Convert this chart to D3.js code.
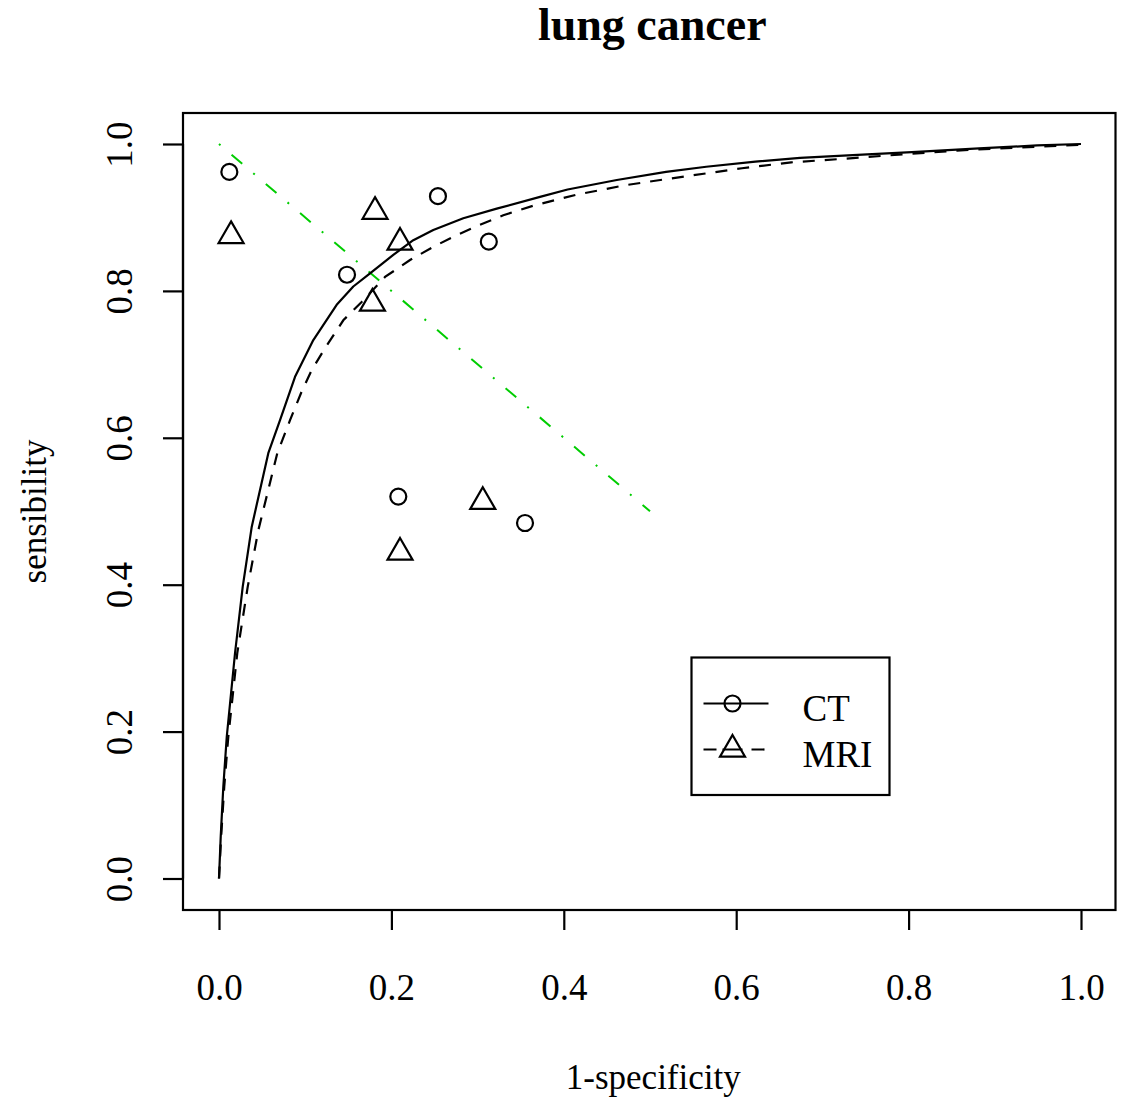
<!DOCTYPE html>
<html>
<head>
<meta charset="utf-8">
<script src="https://cdn.jsdelivr.net/npm/d3@7"></script>
<style>
  html, body { margin: 0; padding: 0; background: #fff; }
  svg text { font-family: "Liberation Serif", "Times New Roman", serif; fill: #000; }
</style>
</head>
<body>
<svg id="chart" width="1124" height="1097"></svg>
<script>
// Study-level points (1-specificity, sensitivity)
const ctFpr  = [0.012, 0.1485, 0.254, 0.313, 0.208, 0.355];
const ctSens = [0.962, 0.822, 0.929, 0.867, 0.520, 0.484];
const mriFpr  = [0.014, 0.181, 0.210, 0.178, 0.306, 0.210];
const mriSens = [0.875, 0.908, 0.866, 0.783, 0.513, 0.444];

// Summary ROC curve for CT
const ctCurveX = [0, 0.002, 0.005, 0.009, 0.0186, 0.0275, 0.038, 0.0572, 0.0708, 0.0882, 0.1094,
  0.1365, 0.1558, 0.1752, 0.2022, 0.2254, 0.2486, 0.2834, 0.3222, 0.3724, 0.4044, 0.4615,
  0.5186, 0.5652, 0.6223, 0.6741, 0.752, 0.8038, 0.8817, 0.9492, 1.0];
const ctCurveY = [0, 0.057, 0.125, 0.193, 0.307, 0.397, 0.479, 0.579, 0.624, 0.683, 0.733,
  0.781, 0.806, 0.824, 0.849, 0.869, 0.883, 0.899, 0.912, 0.928, 0.938, 0.951,
  0.962, 0.969, 0.976, 0.981, 0.986, 0.989, 0.994, 0.998, 1.0];

// Summary ROC curve for MRI
const mriCurveX = [0, 0.0025, 0.0061, 0.0108, 0.0212, 0.0333, 0.0456, 0.0676, 0.0824, 0.0959, 0.1075,
  0.123, 0.1442, 0.1655, 0.1926, 0.2216, 0.2486, 0.2758, 0.3028, 0.3298, 0.3646, 0.4147,
  0.4718, 0.5237, 0.6067, 0.6638, 0.7261, 0.7935, 0.8558, 0.9232, 1.0];
const mriCurveY = [0, 0.057, 0.125, 0.193, 0.307, 0.397, 0.474, 0.579, 0.624, 0.663, 0.692,
  0.722, 0.760, 0.785, 0.819, 0.842, 0.860, 0.876, 0.890, 0.903, 0.916, 0.931,
  0.944, 0.953, 0.967, 0.975, 0.980, 0.986, 0.991, 0.995, 0.999];

// Sensitivity = specificity reference line
const refLineX = [0, 0.5];
const refLineY = [1, 0.5];

const xTicks = [0, 0.2, 0.4, 0.6, 0.8, 1.0];
const yTicks = [0, 0.2, 0.4, 0.6, 0.8, 1.0];
const legendLabels = ["CT", "MRI"];

const svg = d3.select("#chart");
const plot = { left: 183, right: 1115.5, top: 113, bottom: 910 };

const x = d3.scaleLinear().domain([0, 1]).range([219, 1081]);
const y = d3.scaleLinear().domain([0, 1]).range([878.5, 144]);

const fmt = d3.format(".1f");
const tickLen = 20;
const fontSize = 37;
const lw = 2.2;

// Plot frame
svg.append("rect")
  .attr("x", plot.left).attr("y", plot.top)
  .attr("width", plot.right - plot.left).attr("height", plot.bottom - plot.top)
  .attr("fill", "none").attr("stroke", "#000").attr("stroke-width", lw);

// Bottom axis
const xAxis = d3.axisBottom(x).tickValues(xTicks).tickFormat(fmt)
  .tickSizeInner(tickLen).tickSizeOuter(0);
const gx = svg.append("g").attr("transform", `translate(0,${plot.bottom})`).call(xAxis);
gx.select(".domain").attr("d", `M${x(0)},0H${x(1)}`).attr("stroke-width", lw);
gx.selectAll(".tick line").attr("stroke-width", lw);
gx.selectAll(".tick text")
  .attr("font-size", fontSize).attr("font-family", "Liberation Serif, serif")
  .attr("fill", "#000").attr("dy", null).attr("y", 90);

// Left axis (labels rotated, as in base graphics)
const yAxis = d3.axisLeft(y).tickValues(yTicks).tickFormat(fmt)
  .tickSizeInner(tickLen).tickSizeOuter(0);
const gy = svg.append("g").attr("transform", `translate(${plot.left},0)`).call(yAxis);
gy.select(".domain").attr("d", `M0,${y(0)}V${y(1)}`).attr("stroke-width", lw);
gy.selectAll(".tick line").attr("stroke-width", lw);
gy.selectAll(".tick text")
  .attr("font-size", fontSize).attr("font-family", "Liberation Serif, serif")
  .attr("fill", "#000")
  .attr("x", null).attr("dy", null)
  .attr("text-anchor", "middle")
  .attr("transform", `translate(${131.5 - plot.left},0) rotate(-90)`);

// Titles
svg.append("text")
  .attr("x", (plot.left + plot.right) / 2 + 3).attr("y", 40)
  .attr("text-anchor", "middle").attr("font-size", 46).attr("font-weight", "bold")
  .text("lung cancer");
svg.append("text")
  .attr("x", (plot.left + plot.right) / 2 + 4).attr("y", 1089)
  .attr("text-anchor", "middle").attr("font-size", 35)
  .text("1-specificity");
svg.append("text")
  .attr("transform", `translate(46,${(plot.top + plot.bottom) / 2}) rotate(-90)`)
  .attr("text-anchor", "middle").attr("font-size", 35)
  .text("sensibility");

const line = d3.line().x(d => x(d[0])).y(d => y(d[1]));
const dashPattern = "12,10";

// Reference diagonal
svg.append("path")
  .datum(d3.zip(refLineX, refLineY))
  .attr("d", line)
  .attr("fill", "none").attr("stroke", "#00CD00").attr("stroke-width", 2)
  .attr("stroke-dasharray", "2,14.5,14,14.5");

// SROC curves
svg.append("path")
  .datum(d3.zip(ctCurveX, ctCurveY))
  .attr("d", line)
  .attr("fill", "none").attr("stroke", "#000").attr("stroke-width", lw)
  .attr("stroke-linejoin", "round");
svg.append("path")
  .datum(d3.zip(mriCurveX, mriCurveY))
  .attr("d", line)
  .attr("fill", "none").attr("stroke", "#000").attr("stroke-width", lw)
  .attr("stroke-dasharray", dashPattern);

// Symbols
const circleR = 8;
const triSize = 9.28; // base radius of the open triangle
const triPath = `M0,${-1.555 * triSize}L${1.347 * triSize},${0.778 * triSize}L${-1.347 * triSize},${0.778 * triSize}Z`;

svg.append("g").selectAll("circle")
  .data(d3.zip(ctFpr, ctSens))
  .join("circle")
  .attr("cx", d => x(d[0])).attr("cy", d => y(d[1])).attr("r", circleR)
  .attr("fill", "none").attr("stroke", "#000").attr("stroke-width", lw);

svg.append("g").selectAll("path")
  .data(d3.zip(mriFpr, mriSens))
  .join("path")
  .attr("transform", d => `translate(${x(d[0])},${y(d[1])})`)
  .attr("d", triPath)
  .attr("fill", "none").attr("stroke", "#000").attr("stroke-width", lw)
  .attr("stroke-linejoin", "miter");

// Legend
const lg = svg.append("g").attr("transform", "translate(691.5,657.5)");
lg.append("rect").attr("width", 198).attr("height", 137.5)
  .attr("fill", "#fff").attr("stroke", "#000").attr("stroke-width", lw);
const rowY = [46, 92];
const dashes = [null, "13,6,20,9"];
legendLabels.forEach((lab, i) => {
  lg.append("line").attr("x1", 12).attr("x2", 77).attr("y1", rowY[i]).attr("y2", rowY[i])
    .attr("stroke", "#000").attr("stroke-width", lw)
    .attr("stroke-dasharray", dashes[i]);
  if (i === 0) {
    lg.append("circle").attr("cx", 41).attr("cy", rowY[i]).attr("r", circleR)
      .attr("fill", "none").attr("stroke", "#000").attr("stroke-width", lw);
  } else {
    lg.append("path").attr("transform", `translate(41,${rowY[i]})`).attr("d", triPath)
      .attr("fill", "none").attr("stroke", "#000").attr("stroke-width", lw);
  }
  lg.append("text").attr("x", 111).attr("y", rowY[i] + 17)
    .attr("font-size", fontSize).text(lab);
});
</script>
</body>
</html>
